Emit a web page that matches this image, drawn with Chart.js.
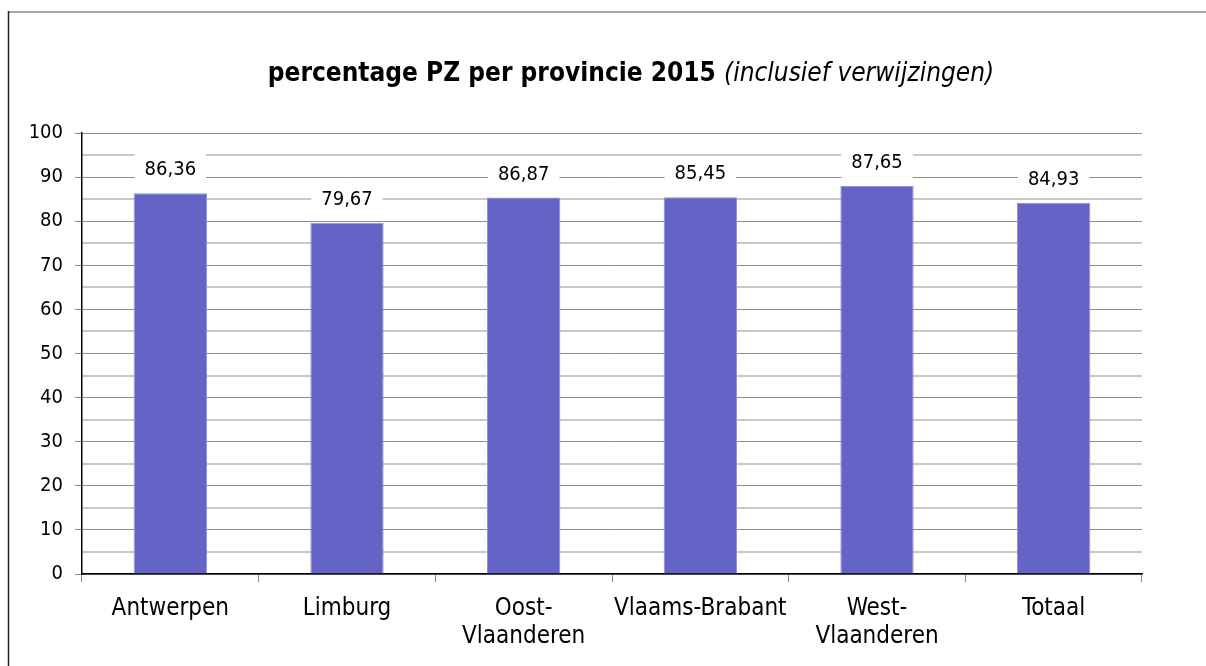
<!DOCTYPE html>
<html>
<head>
<meta charset="utf-8">
<script src="https://cdn.jsdelivr.net/npm/chart.js@4/dist/chart.umd.min.js"></script>
<style>
  html, body { margin: 0; padding: 0; background: #ffffff; }
  canvas { display: block; }
</style>
</head>
<body>
<canvas id="c" width="1206" height="666"></canvas>
<script>
const categories = ["Antwerpen", "Limburg", ["Oost-", "Vlaanderen"], "Vlaams-Brabant", ["West-", "Vlaanderen"], "Totaal"];
const barValues = [86.36, 79.67, 85.4, 85.45, 88.0, 84.2];
const valueLabels = ["86,36", "79,67", "86,87", "85,45", "87,65", "84,93"];
const titleMain = "percentage PZ per provincie 2015";
const titleSub = "(inclusief verwijzingen)";
const yMin = 0, yMax = 100, yStep = 5, yLabelStep = 10;

const FONT = "'DejaVu Sans Condensed', 'DejaVu Sans', sans-serif";
Chart.defaults.font.family = FONT;
Chart.defaults.color = '#000';

const decor = {
  id: 'decor',
  beforeDraw(chart) {
    const ctx = chart.ctx;
    ctx.save();
    ctx.fillStyle = '#fff';
    ctx.fillRect(0, 0, chart.width, chart.height);
    // frame lines
    ctx.strokeStyle = '#a6a6a6';
    ctx.lineWidth = 2;
    ctx.beginPath(); ctx.moveTo(8, 12); ctx.lineTo(chart.width, 12); ctx.stroke();
    ctx.strokeStyle = '#222';
    ctx.lineWidth = 1.5;
    ctx.beginPath(); ctx.moveTo(8.5, 11); ctx.lineTo(8.5, chart.height); ctx.stroke();
    // title
    ctx.textBaseline = 'middle';
    ctx.fillStyle = '#000';
    const fb = "bold 26px " + FONT;
    const fi = "italic 26px " + FONT;
    ctx.font = fb; const w1 = ctx.measureText(titleMain + " ").width;
    ctx.font = fi; const w2 = ctx.measureText(titleSub).width;
    const cx = 631;
    let x = cx - (w1 + w2) / 2;
    ctx.font = fb; ctx.textAlign = 'left'; ctx.fillText(titleMain + " ", x, 74);
    ctx.font = fi; ctx.fillText(titleSub, x + w1, 74);
    ctx.restore();
  },
  afterDatasetsDraw(chart) {
    const ctx = chart.ctx;
    const meta = chart.getDatasetMeta(0);
    ctx.save();
    ctx.font = "20px " + FONT;
    ctx.textAlign = 'center';
    ctx.textBaseline = 'middle';
    meta.data.forEach((bar, i) => {
      const txt = valueLabels[i];
      const w = ctx.measureText(txt).width + 20;
      const cy = bar.y - 24;
      ctx.fillStyle = '#fff';
      ctx.fillRect(bar.x - w / 2, cy - 16, w, 32);
      ctx.fillStyle = '#000';
      ctx.fillText(txt, bar.x, cy + 1);
    });
    ctx.restore();
  }
};

new Chart(document.getElementById('c'), {
  type: 'bar',
  data: {
    labels: categories,
    datasets: [{
      data: barValues,
      backgroundColor: '#6464c6',
      borderColor: '#8f8fdc',
      borderWidth: 1,
      categoryPercentage: 1.0,
      barPercentage: 0.415
    }]
  },
  options: {
    responsive: false,
    animation: false,
    layout: { padding: { top: 133, right: 64, left: 0, bottom: 0 } },
    plugins: { legend: { display: false }, tooltip: { enabled: false }, title: { display: false } },
    scales: {
      x: {
        offset: true,
        grid: {
          offset: true,
          drawOnChartArea: false,
          drawTicks: true,
          tickLength: 8,
          tickColor: '#888',
          tickWidth: 1
        },
        border: { display: true, color: '#000', width: 1.5 },
        ticks: { font: { size: 24 }, padding: 12, maxRotation: 0, autoSkip: false, color: '#000' },
        afterFit(scale) { scale.height = 92; }
      },
      y: {
        min: yMin, max: yMax,
        ticks: {
          stepSize: yStep,
          maxTicksLimit: 50,
          autoSkip: false,
          font: { size: 20 },
          padding: 12,
          color: '#000',
          callback: (v) => (v % yLabelStep === 0 ? String(v) : '')
        },
        grid: {
          color: (c) => (c.tick && c.tick.value % yLabelStep === 0 ? '#8c8c8c' : '#c8c8c8'),
          lineWidth: (c) => (c.tick && c.tick.value % yLabelStep === 0 ? 1 : 2),
          tickColor: (c) => (c.tick && c.tick.value % yLabelStep === 0 ? '#8c8c8c' : 'rgba(0,0,0,0)'),
          tickLength: 7,
          drawTicks: true
        },
        border: { display: true, color: '#000', width: 1.5 },
        afterFit(scale) { scale.width = 82; }
      }
    }
  },
  plugins: [decor]
});
</script>
</body>
</html>
